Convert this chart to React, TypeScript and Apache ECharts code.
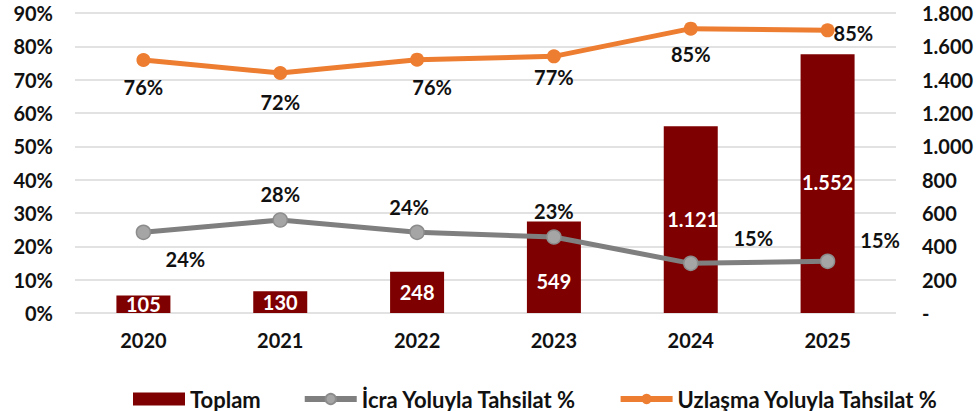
import React, { useEffect, useRef } from "react";
import * as echarts from "echarts";

const years = ["2020", "2021", "2022", "2023", "2024", "2025"];
const toplam = [105, 130, 248, 549, 1121, 1552];
const icra = [24, 28, 24, 23, 15, 15];
const uzlasma = [76, 72, 76, 77, 85, 85];
const icraPlot = [24.2, 27.9, 24.2, 22.8, 14.9, 15.5];
const uzlasmaPlot = [75.9, 72.0, 76.0, 77.0, 85.3, 84.8];

const FONT = "Lato";

function fmtNum(v: number): string {
  if (v === 0) return "-";
  return String(v).replace(/\B(?=(\d{3})+(?!\d))/g, ".");
}

export default function App() {
  const ref = useRef<HTMLDivElement>(null);
  useEffect(() => {
    if (!ref.current) return;
    const chart = echarts.init(ref.current, undefined, { renderer: "svg" });
    const lblBase = { fontFamily: FONT, fontWeight: "bold" as const, fontSize: 20, color: "#111" };
    const barLbl = { color: "#fff", fontFamily: FONT, fontWeight: "bold" as const, fontSize: 20 };

    const barLabels: any[] = [
      { position: "inside" },
      { position: "inside" },
      { position: "inside" },
      { position: "insideBottom", distance: 22 },
      { position: "insideTop", distance: 83, offset: [2, 0] },
      { position: "insideTop", distance: 118 },
    ];
    const barData = toplam.map((v, i) => ({
      value: v,
      label: { show: true, formatter: fmtNum(v), ...barLbl, ...barLabels[i] },
    }));

    const icraLabels: any[] = [
      { position: "bottom", offset: [42, 4] },
      { position: "top", distance: 8 },
      { position: "top", distance: 8, offset: [-8, 0] },
      { position: "top", distance: 8 },
      { position: "right", offset: [30, -25] },
      { position: "right", offset: [20, -21] },
    ];
    const icraData = icraPlot.map((v, i) => ({
      value: v,
      label: { show: true, formatter: icra[i] + "%", ...lblBase, ...icraLabels[i] },
    }));

    const uzLabels: any[] = [
      { position: "bottom", distance: 10 },
      { position: "bottom", distance: 12 },
      { position: "bottom", distance: 10, offset: [15, 0] },
      { position: "bottom", distance: 4 },
      { position: "bottom", distance: 8 },
      { position: "right", offset: [-6, 3] },
    ];
    const uzData = uzlasmaPlot.map((v, i) => ({
      value: v,
      label: { show: true, formatter: uzlasma[i] + "%", ...lblBase, ...uzLabels[i] },
    }));

    const axisLbl = { fontFamily: FONT, fontWeight: "bold" as const, fontSize: 20, color: "#111" };

    chart.setOption({
      animation: false,
      backgroundColor: "#fff",
      textStyle: { fontFamily: FONT },
      grid: { left: 75, right: 83, top: 13, bottom: 98, containLabel: false },
      legend: {
        top: 383,
        left: 128,
        itemGap: 41,
        itemWidth: 52,
        itemHeight: 13,
        textStyle: { fontFamily: FONT, fontWeight: "bold", fontSize: 22, color: "#111" },
        data: [
          { name: "Toplam", icon: "rect" },
          { name: "İcra Yoluyla Tahsilat %", lineStyle: { width: 6 } },
          { name: "Uzlaşma Yoluyla Tahsilat %", lineStyle: { width: 6 } },
        ],
      },
      xAxis: {
        type: "category",
        data: years,
        axisLine: { show: false },
        axisTick: { show: false },
        axisLabel: { ...axisLbl, margin: 17 },
      },
      yAxis: [
        {
          type: "value",
          min: 0,
          max: 90,
          interval: 10,
          axisLabel: { ...axisLbl, formatter: "{value}%", margin: 22 },
          splitLine: { lineStyle: { color: "#d9d9d9", width: 1.5 } },
          axisLine: { show: false },
          axisTick: { show: false },
        },
        {
          type: "value",
          min: 0,
          max: 1800,
          interval: 200,
          axisLabel: { ...axisLbl, formatter: (v: number) => fmtNum(v), margin: 26 },
          splitLine: { show: false },
          axisLine: { show: false },
          axisTick: { show: false },
        },
      ],
      series: [
        {
          name: "Toplam",
          type: "bar",
          yAxisIndex: 1,
          barWidth: 54,
          itemStyle: { color: "#7f0000" },
          data: barData,
          z: 1,
        },
        {
          name: "İcra Yoluyla Tahsilat %",
          type: "line",
          yAxisIndex: 0,
          symbol: "circle",
          symbolSize: 14,
          lineStyle: { color: "#7f7f7f", width: 5 },
          itemStyle: { color: "#a5a5a5", borderColor: "#8c8c8c", borderWidth: 1.5 },
          data: icraData,
          z: 3,
        },
        {
          name: "Uzlaşma Yoluyla Tahsilat %",
          type: "line",
          yAxisIndex: 0,
          symbol: "circle",
          symbolSize: 14,
          lineStyle: { color: "#ed7d31", width: 5 },
          itemStyle: { color: "#ed7d31" },
          data: uzData,
          z: 3,
        },
      ],
    });
    return () => chart.dispose();
  }, []);
  return <div ref={ref} style={{ width: 979, height: 411, position: "absolute", left: 0, top: 0 }} />;
}
